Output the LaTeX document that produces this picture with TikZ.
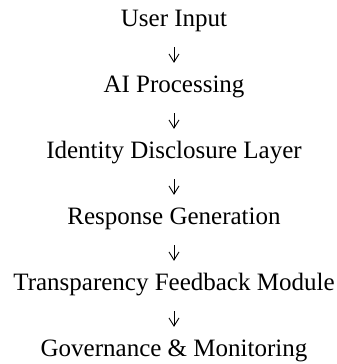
\documentclass[tikz,border=0pt]{standalone}
\usepackage{fontspec}
\setmainfont{Liberation Serif}
\usepackage{tikz}
\usetikzlibrary{arrows.meta}
\tikzset{
  stage/.style={anchor=base, inner sep=0pt, text height=17bp, text depth=5bp,
    font=\fontsize{25bp}{29bp}\selectfont},
  flowarrow/.style={-{Straight Barb[length=8bp,width=10bp]}, line width=0.9bp,
    shorten <=16bp, shorten >=12bp},
}
\begin{document}
\begin{tikzpicture}[x=1bp,y=-1bp]
  \useasboundingbox (0,0) rectangle (337,364);
  % stages, top to bottom
  \foreach \txt [count=\i] in {User Input, AI Processing, Identity Disclosure Layer,
      Response Generation, Transparency Feedback Module, Governance \& Monitoring} {
    \node[stage] (s\i) at (174,{26+66*(\i-1)}) {\txt};
  }
  % arrows between stages
  \foreach \i [evaluate=\i as \j using int(\i+1)] in {1,...,5}
    \draw[flowarrow] (s\i) -- (s\j);
\end{tikzpicture}
\end{document}
